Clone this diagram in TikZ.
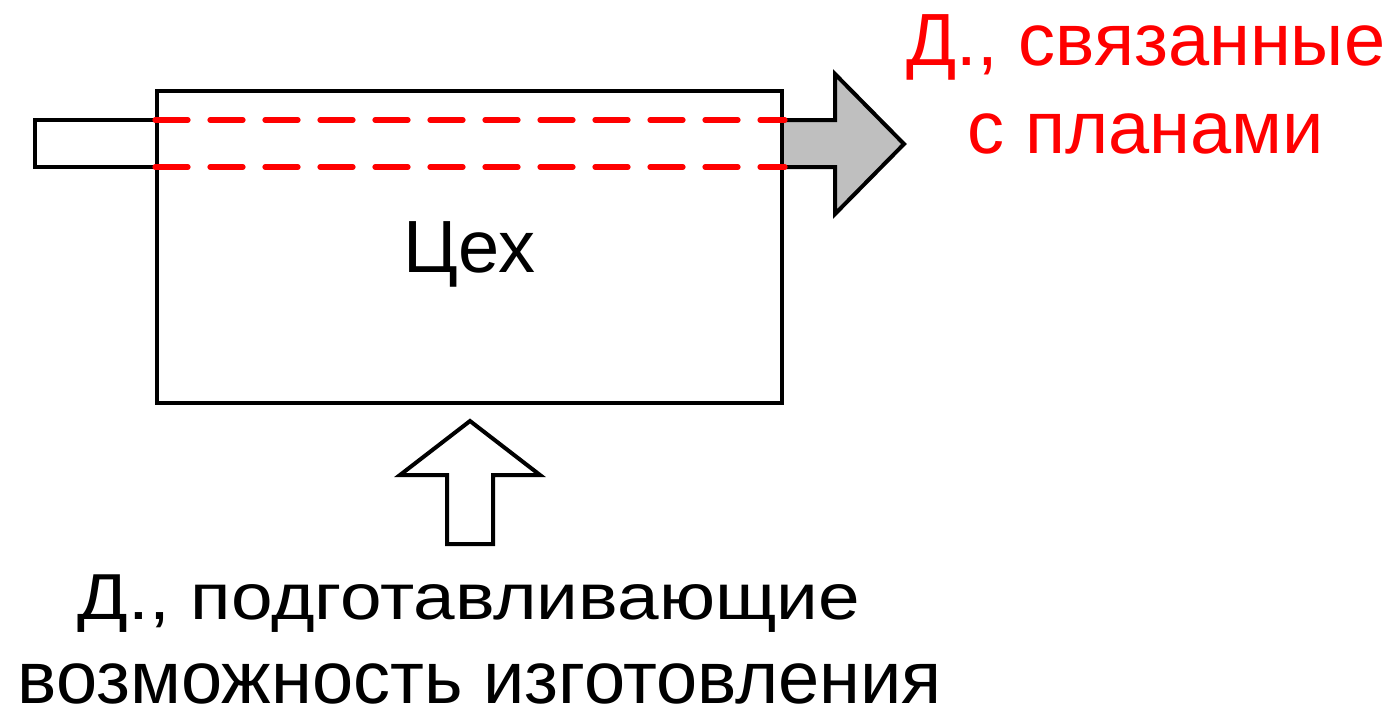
\documentclass[tikz,border=0pt]{standalone}
\usepackage{fontspec}
\setmainfont{Liberation Sans}
\newfontfamily\widesans[FakeStretch=1.15]{Liberation Sans}
\usetikzlibrary{positioning}

\begin{document}
\begin{tikzpicture}[x=0.5pt,y=-0.5pt,line width=2pt,
  blk/.style={draw,line join=miter},
  plan/.style={draw=red,line width=2.6pt,line cap=round,dash pattern=on 16.5pt off 11pt},
  lbl/.style={align=center,inner sep=1pt,font=\fontsize{37}{44}\selectfont}]
\useasboundingbox (0,0) rectangle (1398,709);

  % arrow out of the shop
  \draw[blk,fill=black!25] (782,120) -- (835,120) -- (835,74) -- (904,144)
       -- (835,214) -- (835,167) -- (782,167);
  % arrow into the shop
  \draw[blk,fill=white] (447,544) -- (447,475) -- (400,475) -- (470,421)
       -- (540,475) -- (493,475) -- (493,544) -- cycle;

  \node[draw,minimum width=312.5pt,minimum height=156pt,inner sep=0pt,text depth=0pt,
        font=\fontsize{37}{44}\selectfont]	(ceh)	at (469.5,247)	{Цех};

  % tail on the left
  \draw[blk] (ceh.west |- 0,120) -- (35,120) -- (35,167) -- (ceh.west |- 0,167);

  \draw[plan] (ceh.west |- 0,120) -- (785,120);
  \draw[plan] (ceh.west |- 0,167) -- (785,167);

  \node[lbl,text=red,anchor=base]	(plans)	at (1146,153)	{Д., связанные\\с планами};
  \node[lbl,anchor=base]	(prep)	at (480,703)
       {{\widesans\fontsize{32.5}{40}\selectfont Д., подготавливающие}\hspace*{11pt}\\[-2pt]возможность изготовления};
\end{tikzpicture}
\end{document}
